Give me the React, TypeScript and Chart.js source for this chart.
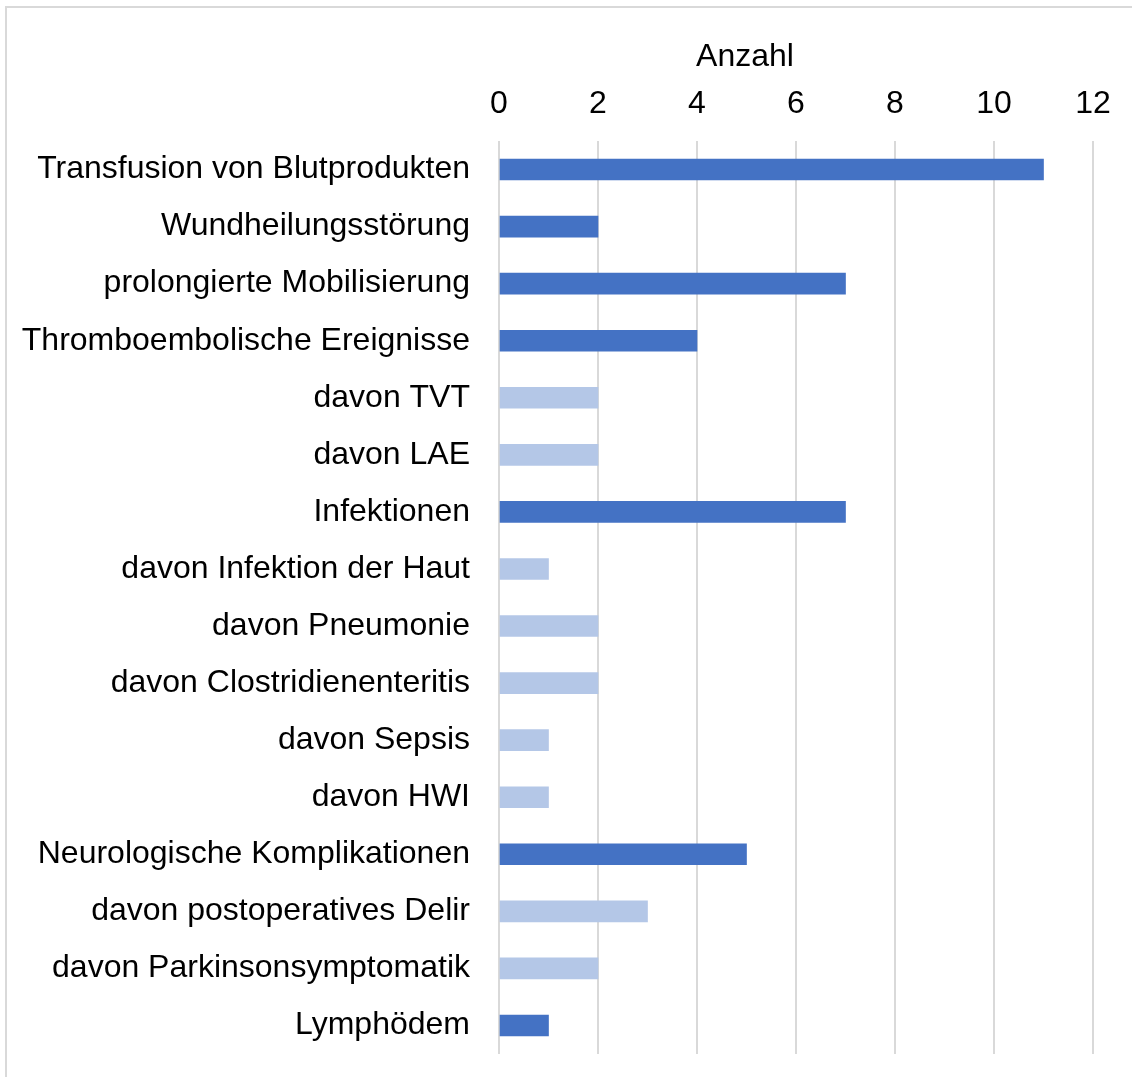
import React, { useEffect, useRef } from "react";
import { Chart, registerables } from "chart.js";

Chart.register(...registerables);

const categories = [
  "Transfusion von Blutprodukten",
  "Wundheilungsstörung",
  "prolongierte Mobilisierung",
  "Thromboembolische Ereignisse",
  "davon TVT",
  "davon LAE",
  "Infektionen",
  "davon Infektion der Haut",
  "davon Pneumonie",
  "davon Clostridienenteritis",
  "davon Sepsis",
  "davon HWI",
  "Neurologische Komplikationen",
  "davon postoperatives Delir",
  "davon Parkinsonsymptomatik",
  "Lymphödem",
];

const counts = [11, 2, 7, 4, 2, 2, 7, 1, 2, 2, 1, 1, 5, 3, 2, 1];

const isSubItem = [
  false, false, false, false, true, true, false, true,
  true, true, true, true, false, true, true, false,
];

const axisTitle = "Anzahl";
const xMin = 0;
const xMax = 12;
const xStep = 2;

const MAIN_COLOR = "#4472C4";
const SUB_COLOR = "#B4C7E7";
const GRID_COLOR = "#D9D9D9";
const FONT = "Liberation Sans, Arial, sans-serif";

export default function App() {
  const canvasRef = useRef<HTMLCanvasElement | null>(null);

  useEffect(() => {
    document.body.style.margin = "0";
    const canvas = canvasRef.current;
    if (!canvas) return;

    const framePlugin = {
      id: "frameAndTitle",
      beforeDraw(chart: any) {
        const ctx = chart.ctx;
        ctx.save();
        ctx.fillStyle = "#FFFFFF";
        ctx.fillRect(0, 0, chart.width, chart.height);
        ctx.fillStyle = GRID_COLOR;
        ctx.fillRect(5, 6, 2, chart.height);
        ctx.fillRect(5, 6, chart.width, 2);
        ctx.restore();
      },
      afterDraw(chart: any) {
        const ctx = chart.ctx;
        ctx.save();
        ctx.fillStyle = "#000000";
        ctx.font = `32px ${FONT}`;
        ctx.textAlign = "center";
        ctx.textBaseline = "middle";
        ctx.fillText(axisTitle, 745, 57);
        ctx.restore();
      },
    };

    const chart = new Chart(canvas, {
      type: "bar",
      data: {
        labels: categories,
        datasets: [
          {
            data: counts,
            backgroundColor: isSubItem.map((s) => (s ? SUB_COLOR : MAIN_COLOR)),
            barThickness: 21,
            borderWidth: 0,
          },
        ],
      },
      options: {
        indexAxis: "y",
        responsive: false,
        animation: false,
        devicePixelRatio: 1,
        layout: { padding: { top: 0, right: 39, bottom: 23, left: 0 } },
        plugins: {
          legend: { display: false },
          tooltip: { enabled: false },
        },
        scales: {
          x: {
            position: "top",
            min: xMin,
            max: xMax,
            ticks: {
              stepSize: xStep,
              color: "#000000",
              font: { family: FONT, size: 32 },
              padding: 18,
              maxRotation: 0,
            },
            grid: { color: GRID_COLOR, lineWidth: 2, drawTicks: false },
            border: { display: false },
            afterFit: (s: any) => {
              s.height = 141;
              s.paddingLeft = 0;
              s.paddingRight = 0;
            },
          },
          y: {
            ticks: {
              color: "#000000",
              font: { family: FONT, size: 32 },
              padding: 29,
              autoSkip: false,
            },
            grid: { display: false, drawTicks: false },
            border: { display: false },
            afterFit: (s: any) => {
              s.width = 499;
              s.paddingTop = 0;
              s.paddingBottom = 0;
            },
          },
        },
      },
      plugins: [framePlugin],
    } as any);

    return () => chart.destroy();
  }, []);

  return (
    <div style={{ width: 1132, height: 1077 }}>
      <canvas ref={canvasRef} width={1132} height={1077} style={{ display: "block" }} />
    </div>
  );
}
